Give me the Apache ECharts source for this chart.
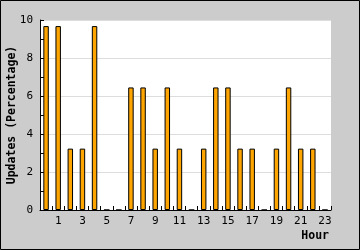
<!DOCTYPE html>
<html><head><meta charset="utf-8">
<script src="https://cdn.jsdelivr.net/npm/echarts@6/dist/echarts.min.js"></script>
<style>html,body{margin:0;padding:0;background:#cccccc;}#c{width:360px;height:250px;}</style>
</head><body><div id="c"></div>
<script>
var hours = ['0','1','2','3','4','5','6','7','8','9','10','11','12','13','14','15','16','17','18','19','20','21','22','23'];
var updates = [9.68,9.68,3.23,3.23,9.68,0,0,6.45,6.45,3.23,6.45,3.23,0,3.23,6.45,6.45,3.23,3.23,0,3.23,6.45,3.23,3.23,0];
var yTicks = [0,2,4,6,8,10];
var xName = 'Hour';
var yName = 'Updates (Percentage)';

var mono = 'DejaVu Sans Mono';
var chart = echarts.init(document.getElementById('c'), null, {renderer:'canvas'});
chart.setOption({
  backgroundColor: '#cccccc',
  animation: false,
  graphic: [{type:'rect', shape:{x:0.5,y:0.5,width:359,height:249}, style:{fill:'none', stroke:'#000', lineWidth:1}, silent:true, z:100}],
  grid: {left:40, right:29, top:20, bottom:40, show:true, backgroundColor:'#ffffff', borderWidth:0, containLabel:false, outerBoundsMode:'none'},
  xAxis: {
    type:'category', data: hours,
    name: xName, nameLocation:'end', nameGap:-2, nameMoveOverlap:false,
    nameTextStyle:{fontFamily:mono, fontWeight:'bold', fontSize:11.5, color:'#000', align:'right', verticalAlign:'top', padding:[20,0,0,0]},
    axisLine:{lineStyle:{color:'#000', width:1}},
    axisTick:{show:true, inside:true, length:4, interval:0, lineStyle:{color:'#000'}},
    axisLabel:{fontFamily:mono, fontSize:11, color:'#000', margin:6, interval:function(i){return i%2===1;}},
    splitLine:{show:false}
  },
  yAxis: {
    type:'value', min: yTicks[0], max: yTicks[yTicks.length-1], interval: 2,
    name: yName, nameLocation:'middle', nameGap:22, nameMoveOverlap:false,
    nameTextStyle:{fontFamily:mono, fontWeight:'bold', fontSize:11.5, color:'#000'},
    axisLine:{show:true, lineStyle:{color:'#000', width:1}},
    axisTick:{show:true, inside:true, length:4, lineStyle:{color:'#000'}},
    minorTick:{show:true, splitNumber:2, length:4, lineStyle:{color:'#000'}},
    axisLabel:{fontFamily:mono, fontSize:11, color:'#000', margin:7},
    splitLine:{show:true, lineStyle:{color:'#dddddd', width:1}}
  },
  series: [{
    type:'bar', data: updates, barWidth:'45%',
    itemStyle:{color:'#ffa500', borderColor:'#000', borderWidth:1}
  }]
});
</script></body></html>
